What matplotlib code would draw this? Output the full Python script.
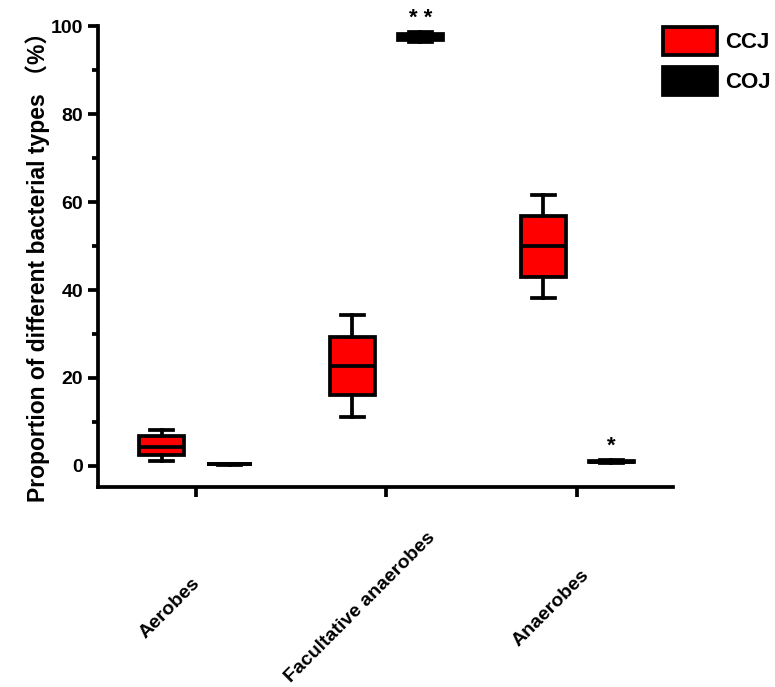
import matplotlib
matplotlib.use("Agg")
import matplotlib.pyplot as plt
import matplotlib.transforms as mtransforms
from matplotlib.patches import Patch
from matplotlib.ticker import MultipleLocator

plt.rcParams['font.family'] = ['Liberation Sans', 'Noto Sans CJK SC', 'DejaVu Sans']
plt.rcParams['font.weight'] = 'bold'

### data ###
categories = ['Aerobes', 'Facultative anaerobes', 'Anaerobes']
groups = ['CCJ', 'COJ']
colors = ['#ff0000', '#000000']

# five number summaries: whislo, q1, med, q3, whishi
ccj_whislo = [1.2, 11.2, 38.3]
ccj_q1 = [2.4, 16.1, 43.0]
ccj_med = [4.4, 22.7, 49.9]
ccj_q3 = [6.7, 29.4, 56.8]
ccj_whishi = [8.2, 34.3, 61.7]

coj_whislo = [0.3, 96.4, 0.6]
coj_q1 = [0.35, 96.9, 0.8]
coj_med = [0.4, 97.5, 1.0]
coj_q3 = [0.45, 98.1, 1.2]
coj_whishi = [0.5, 98.7, 1.4]

signif = ['', '* *', '*']

def make_stats(lo, q1, med, q3, hi):
    return [dict(whislo=a, q1=b, med=c, q3=d, whishi=e, fliers=[])
            for a, b, c, d, e in zip(lo, q1, med, q3, hi)]

stats_all = [make_stats(ccj_whislo, ccj_q1, ccj_med, ccj_q3, ccj_whishi),
             make_stats(coj_whislo, coj_q1, coj_med, coj_q3, coj_whishi)]

fig = plt.figure(figsize=(7.75, 6.87), dpi=100)
ax = fig.add_axes([0.126, 0.291, 0.742, 0.671])

lw = 2.7
offsets = [-0.178, 0.178]
xs = range(len(categories))
for g in range(len(groups)):
    pos = [x + offsets[g] for x in xs]
    ax.bxp(stats_all[g], positions=pos, widths=0.235, patch_artist=True,
           showfliers=False, capwidths=0.12,
           boxprops=dict(facecolor=colors[g], edgecolor='black', linewidth=lw),
           whiskerprops=dict(color='black', linewidth=lw),
           capprops=dict(color='black', linewidth=lw),
           medianprops=dict(color='black', linewidth=lw))

# significance marks
for i, s in enumerate(signif):
    if s:
        ax.text(i + offsets[1], coj_whishi[i] + 3.0, s, ha='center', va='center',
                fontsize=16, fontweight='bold', clip_on=False)

ax.set_xlim(-0.513, 2.5)
ax.set_ylim(-4.8, 100)
ax.spines['top'].set_visible(False)
ax.spines['right'].set_visible(False)
ax.spines['left'].set_linewidth(lw)
ax.spines['bottom'].set_linewidth(lw)

ax.yaxis.set_major_locator(MultipleLocator(20))
ax.yaxis.set_minor_locator(MultipleLocator(10))
ax.tick_params(axis='y', which='major', length=7, width=lw, labelsize=14)
ax.tick_params(axis='y', which='minor', length=4, width=lw)
ax.set_yticks([0, 20, 40, 60, 80, 100])
ax.set_yticklabels(['0', '20', '40', '60', '80', '100'], fontweight='bold')

ax.set_xticks(list(xs))
ax.tick_params(axis='x', which='major', length=7, width=lw, pad=80)
ax.set_xticklabels(categories, rotation=45, ha='center', va='center',
                   rotation_mode='anchor', fontsize=14, fontweight='bold')
shift = mtransforms.ScaledTranslation(-26 / 100, 0, fig.dpi_scale_trans)
for lab in ax.get_xticklabels():
    lab.set_transform(lab.get_transform() + shift)

ax.set_ylabel('Proportion of different bacterial types （%）', fontsize=16.5,
              fontweight='bold')
ax.yaxis.set_label_coords(-0.083, 0.49)

handles = [Patch(facecolor=colors[g], edgecolor='black', linewidth=lw)
           for g in range(len(groups))]
fig.legend(handles, groups, loc='upper left', bbox_to_anchor=(0.83, 0.99),
           frameon=False, handlelength=2.4, handleheight=1.6, handletextpad=0.4,
           labelspacing=0.5, prop=dict(size=16, weight='bold'))

fig.savefig('out.png', dpi=100)
